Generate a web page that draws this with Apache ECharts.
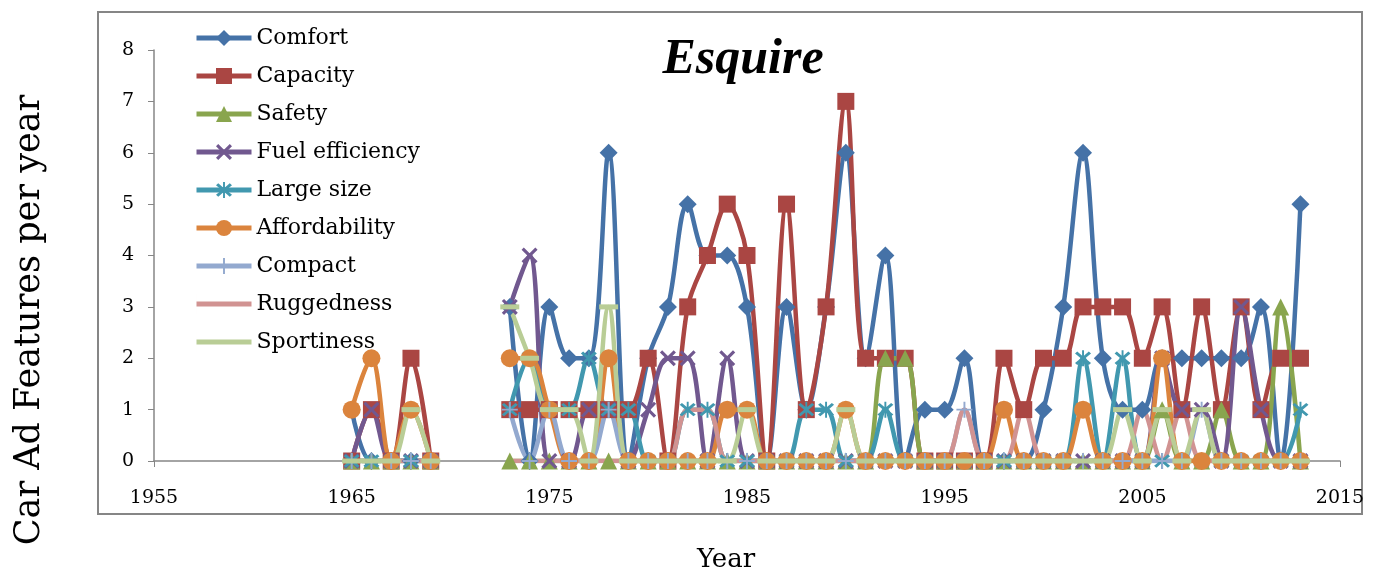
<!DOCTYPE html>
<html>
<head>
<meta charset="utf-8">
<script src="https://cdn.jsdelivr.net/npm/echarts@6/dist/echarts.min.js"></script>
<style>
html,body{margin:0;padding:0;background:#fff;}
#c{width:1388px;height:569px;}
</style>
</head>
<body>
<div id="c"></div>
<script>
var years = [1965,1966,1967,1968,1969,
  1973,1974,1975,1976,1977,1978,1979,1980,1981,1982,
  1983,1984,1985,1986,1987,1988,1989,1990,1991,1992,
  1993,1994,1995,1996,1997,1998,1999,2000,2001,2002,
  2003,2004,2005,2006,2007,2008,2009,2010,2011,2012,
  2013];
var seriesNames = ['Comfort','Capacity','Safety','Fuel efficiency','Large size','Affordability','Compact','Ruggedness','Sportiness'];
var comfort  = [1,0,0,0,0, 3,0,3,2,2,6,0,2,3,5, 4,4,3,0,3,1,3,6,2,4, 0,1,1,2,0,0,0,1,3,6, 2,1,1,2,2,2,2,2,3,0, 5];
var capacity = [0,1,0,2,0, 1,1,1,1,1,1,1,2,0,3, 4,5,4,0,5,1,3,7,2,2, 2,0,0,0,0,2,1,2,2,3, 3,3,2,3,1,3,1,3,1,2, 2];
var safety   = [0,0,0,0,0, 0,0,0,0,0,0,0,0,0,0, 0,0,0,0,0,0,0,0,0,2, 2,0,0,0,0,0,0,0,0,0, 0,0,0,1,0,0,1,0,0,3, 0];
var fuel     = [0,1,0,0,0, 3,4,0,0,1,1,0,1,2,2, 0,2,0,0,0,0,0,0,0,0, 0,0,0,0,0,0,0,0,0,0, 0,0,0,2,1,1,0,3,1,0, 0];
var largeSize= [0,0,0,0,0, 1,2,1,1,2,1,1,0,0,1, 1,0,0,0,0,1,1,0,0,1, 0,0,0,0,0,0,0,0,0,2, 0,2,0,0,0,0,0,0,0,0, 1];
var afford   = [1,2,0,1,0, 2,2,1,0,0,2,0,0,0,0, 0,1,1,0,0,0,0,1,0,0, 0,0,0,0,0,1,0,0,0,1, 0,0,0,2,0,0,0,0,0,0, 0];
var compact  = [0,0,0,0,0, 1,0,1,0,0,1,0,0,0,0, 0,0,0,0,0,0,0,0,0,0, 0,0,0,1,0,0,0,0,0,0, 0,0,0,0,0,1,0,0,0,0, 0];
var rugged   = [0,0,0,0,0, 0,0,0,0,0,0,0,0,0,1, 1,0,0,0,0,0,0,0,0,0, 0,0,0,1,0,0,1,0,0,0, 0,0,1,0,1,0,0,0,0,0, 0];
var sport    = [0,0,0,1,0, 3,2,1,1,0,3,0,0,0,0, 0,0,1,0,0,0,0,1,0,0, 0,0,0,0,0,0,0,0,0,0, 0,1,0,1,0,1,0,0,0,0, 0];
var xTicks = [1955,1965,1975,1985,1995,2005,2015];
var yTicks = [0,1,2,3,4,5,6,7,8];

var allValues = [comfort,capacity,safety,fuel,largeSize,afford,compact,rugged,sport];
var colors = ['#4572A7','#AA4643','#89A54E','#71588F','#4198AF','#DB843D','#93A9CF','#D19392','#B9CD96'];

var X_PATH = 'path://M0,1.4 L1.4,0 L5,3.6 L8.6,0 L10,1.4 L6.4,5 L10,8.6 L8.6,10 L5,6.4 L1.4,10 L0,8.6 L3.6,5 Z';
var AST_PATH = 'path://M0,1.4 L1.4,0 L5,3.6 L8.6,0 L10,1.4 L6.4,5 L10,8.6 L8.6,10 L5,6.4 L1.4,10 L0,8.6 L3.6,5 Z M4.4,-1 L5.6,-1 L5.6,11 L4.4,11 Z';
var PLUS_PATH = 'path://M4.4,0 L5.6,0 L5.6,4.4 L10,4.4 L10,5.6 L5.6,5.6 L5.6,10 L4.4,10 L4.4,5.6 L0,5.6 L0,4.4 L4.4,4.4 Z';
var LINE_ICON = 'path://M0,0 L0.01,0 L0.01,20 L0,20 Z M0,7.5 L55,7.5 L55,12.5 L0,12.5 Z';
var symbols = ['diamond','rect','triangle',X_PATH,AST_PATH,'circle',PLUS_PATH,'none','rect'];
var symbolSizes = [18,17,17,16,16,18,16,0,[19,5]];

function build(vals){
  var out = [];
  for (var i=0;i<years.length;i++){
    if (i>0 && years[i]-years[i-1]>1) out.push([(years[i]+years[i-1])/2,'-']);
    out.push([years[i], vals[i]]);
  }
  return out;
}

var FONT = 'DejaVu Serif';
var series = seriesNames.map(function(n,i){
  return {
    name:n, type:'line', data: build(allValues[i]),
    smooth:0.35, connectNulls:false,
    symbol:symbols[i], symbolSize:symbolSizes[i], showSymbol:symbols[i]!=='none',
    lineStyle:{width:4.5,color:colors[i]},
    itemStyle:{color:colors[i]},
    emphasis:{disabled:true},
    animation:false
  };
});

var legendData = seriesNames.map(function(n,i){
  if (i>=7) return {name:n, icon:LINE_ICON, itemStyle:{color:colors[i]}};
  return {name:n};
});

var chart = echarts.init(document.getElementById('c'),null,{renderer:'canvas'});
chart.setOption({
  animation:false,
  color:colors,
  grid:{left:154,right:48,top:50,bottom:108,containLabel:false},
  xAxis:{type:'value',min:xTicks[0],max:xTicks[xTicks.length-1],interval:10,
    axisLine:{show:true,lineStyle:{color:'#868686',width:1.5}},
    axisTick:{show:true,length:6,lineStyle:{color:'#868686'}},
    splitLine:{show:false},
    axisLabel:{fontFamily:FONT,fontSize:19,color:'#000',margin:28,formatter:function(v){return String(v);}}},
  yAxis:{type:'value',min:yTicks[0],max:yTicks[yTicks.length-1],interval:1,
    axisLine:{show:true,lineStyle:{color:'#868686',width:1.5}},
    axisTick:{show:true,length:6,lineStyle:{color:'#868686'}},
    splitLine:{show:false},
    axisLabel:{fontFamily:FONT,fontSize:19,color:'#000',margin:20}},
  legend:{orient:'vertical',left:189,top:21,itemWidth:55,itemHeight:20,itemGap:14,
    data:legendData,
    lineStyle:{width:5},
    textStyle:{fontFamily:FONT,fontSize:22,lineHeight:24,color:'#000',padding:[0,0,0,0]},
    selectedMode:false},
  graphic:[
    {type:'rect',shape:{x:98,y:12,width:1264,height:502},style:{fill:'none',stroke:'#868686',lineWidth:2},z:-1,silent:true},
    {type:'text',x:743,y:60,style:{text:'Esquire',font:'italic bold 50px "Liberation Serif"',fill:'#000',textAlign:'center',textVerticalAlign:'middle'}},
    {type:'text',x:30,y:320,rotation:Math.PI/2,style:{text:'Car Ad Features per year',font:'35px "DejaVu Serif"',fill:'#000',textAlign:'center',textVerticalAlign:'middle'}},
    {type:'text',x:726,y:560,style:{text:'Year',font:'26px "DejaVu Serif"',fill:'#000',textAlign:'center',textVerticalAlign:'middle'}}
  ],
  series:series
});
</script>
</body>
</html>
